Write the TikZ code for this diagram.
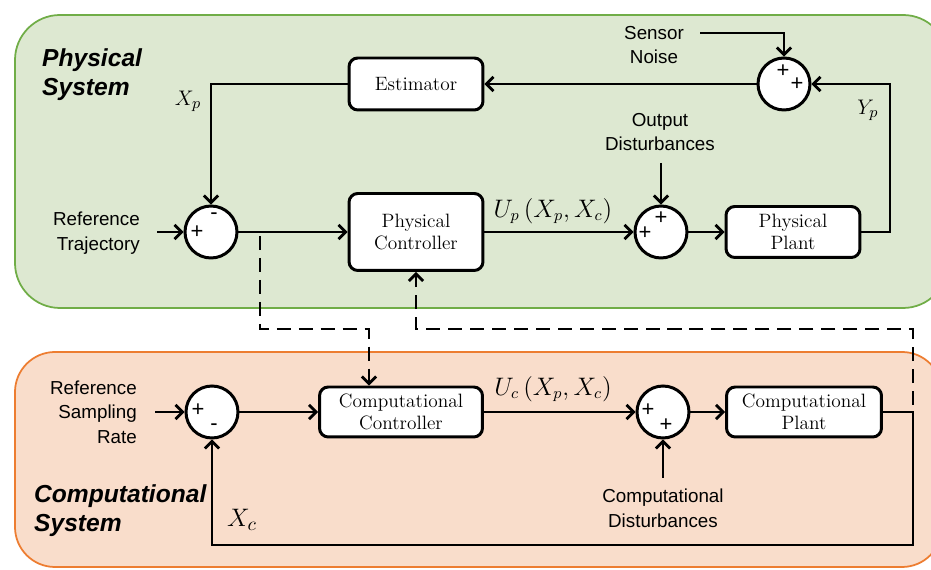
\documentclass[tikz,border=0pt]{standalone}
\usepackage{fontspec}
\newfontfamily\labelfont{Liberation Sans}
\usetikzlibrary{arrows.meta}

\definecolor{physfill}{HTML}{DDE8D1}
\definecolor{physline}{HTML}{70AD47}
\definecolor{compfill}{HTML}{F9DDCB}
\definecolor{compline}{HTML}{ED7D31}

\tikzset{every picture/.append style={x=0.02cm, y=-0.02cm}}
\tikzset{
  block/.style={draw, line width=1.7pt, rounded corners=5pt, fill=white,
    align=center, inner sep=0pt, font=\fontsize{11}{12.5}\selectfont},
  summer/.style={draw, circle, line width=1.7pt, fill=white,
    minimum size=1.04cm, inner sep=0pt},
  sign/.style={inner sep=0pt, font=\labelfont\fontsize{12.5}{12.5}\selectfont},
  sig/.style={line width=1.6pt, -{Straight Barb[length=4pt,width=8pt]}},
  dashsig/.style={sig, dash pattern=on 8pt off 4.5pt},
  lbl/.style={align=center, font=\labelfont\fontsize{10.7}{14}\selectfont},
  title/.style={align=left, font=\labelfont\bfseries\itshape\fontsize{14}{17}\selectfont}
}

\begin{document}
\begin{tikzpicture}
  \clip (0,0) rectangle (931,570);
  \useasboundingbox (0,0) rectangle (931,570);

  % system areas
  \draw[physline, fill=physfill, line width=1pt, rounded corners=0.9cm] (15,15) rectangle (948,308);
  \draw[compline, fill=compfill, line width=1pt, rounded corners=0.8cm] (15,352) rectangle (942,567);
  \node[title, anchor=north west] (physname) at (36,42) {Physical\\System};
  \node[title, anchor=north west] (compname) at (28,478) {Computational\\System};

  % physical loop
  \node[block, minimum width=2.68cm, minimum height=1.04cm] (est) at (416,84) {Estimator};
  \node[block, minimum width=2.68cm, minimum height=1.54cm] (pc) at (416,232) {Physical\\Controller};
  \node[block, minimum width=2.68cm, minimum height=1.02cm] (pp) at (793,232) {Physical\\Plant};
  \node[summer] (sum1) at (211,232) {};
  \node[summer] (sum2) at (661,232) {};
  \node[summer] (sum5) at (784,84) {};
  \node[sign] (s1a) at (197,232) {+};
  \node[sign] (s1b) at (214,216) {-};
  \node[sign] (s2a) at (661,218) {+};
  \node[sign] (s2b) at (645,233) {+};
  \node[sign] (s5a) at (783,71) {+};
  \node[sign] (s5b) at (797,84) {+};

  \node[lbl, align=right, anchor=east] (reftraj) at (146,233) {Reference\\Trajectory};
  \node[lbl] (noise) at (654,45) {Sensor\\Noise};
  \node[lbl] (outdist) at (660,132) {Output\\Disturbances};
  \node[font=\fontsize{13}{15}\selectfont] (xplbl) at (188,101) {$X_p$};
  \node[font=\fontsize{13}{15}\selectfont] (yplbl) at (868,110) {$Y_p$};
  \node[font=\fontsize{13.5}{15}\selectfont] (uplbl) at (553,211) {$U_p\left(X_p,X_c\right)$};

  \coordinate (reftip) at (157,232);
  \coordinate (noisetip) at (700,33);
  \coordinate (outtip) at (661,163);
  \coordinate (ypcorner) at (890,232);

  \draw[sig] (reftip) -- (sum1.west);
  \draw[sig] (sum1.east) -- (pc.west);
  \draw[sig] (pc.east) -- (sum2.west);
  \draw[sig] (outtip) -- (sum2.north);
  \draw[sig] (sum2.east) -- (pp.west);
  \draw[sig] (pp.east) -- (ypcorner) |- (sum5.east);
  \draw[sig] (noisetip) -| (sum5.north);
  \draw[sig] (sum5.west) -- (est.east);
  \draw[sig] (est.west) -| (sum1.north);

  % computational loop
  \node[block, minimum width=3.26cm, minimum height=1.0cm] (cc) at (401,412) {Computational\\Controller};
  \node[block, minimum width=3.1cm, minimum height=1.0cm] (cp) at (804,412) {Computational\\Plant};
  \node[summer] (sum3) at (212,412) {};
  \node[summer] (sum4) at (663,412) {};
  \node[sign] (s3a) at (198,410) {+};
  \node[sign] (s3b) at (214,427) {-};
  \node[sign] (s4a) at (648,410) {+};
  \node[sign] (s4b) at (666,425) {+};

  \node[lbl, align=right, anchor=east] (refrate) at (143,412) {Reference\\Sampling\\Rate};
  \node[lbl] (compdist) at (663,508) {Computational\\Disturbances};
  \node[font=\fontsize{15.5}{17}\selectfont] (xclbl) at (242,520) {$X_c$};
  \node[font=\fontsize{13.5}{15}\selectfont] (uclbl) at (553,389) {$U_c\left(X_p,X_c\right)$};

  \coordinate (ratetip) at (155,412);
  \coordinate (comptip) at (663,478);
  \coordinate (xccorner) at (913,545);

  \draw[sig] (ratetip) -- (sum3.west);
  \draw[sig] (sum3.east) -- (cc.west);
  \draw[sig] (cc.east) -- (sum4.west);
  \draw[sig] (comptip) -- (sum4.south);
  \draw[sig] (sum4.east) -- (cp.west);
  \draw[sig] (cp.east) -| (xccorner) -| (sum3.south);

  % coupling between the two systems
  \coordinate (tapa) at (260,236);
  \coordinate (benda) at (369,329);
  \coordinate (tapb) at (913,405);
  \coordinate (bendb) at (913,329);
  \draw[dashsig] (tapa) |- (benda) -- (benda |- cc.north);
  \draw[dashsig] (tapb) -- (bendb) -| (pc.south);
\end{tikzpicture}
\end{document}
